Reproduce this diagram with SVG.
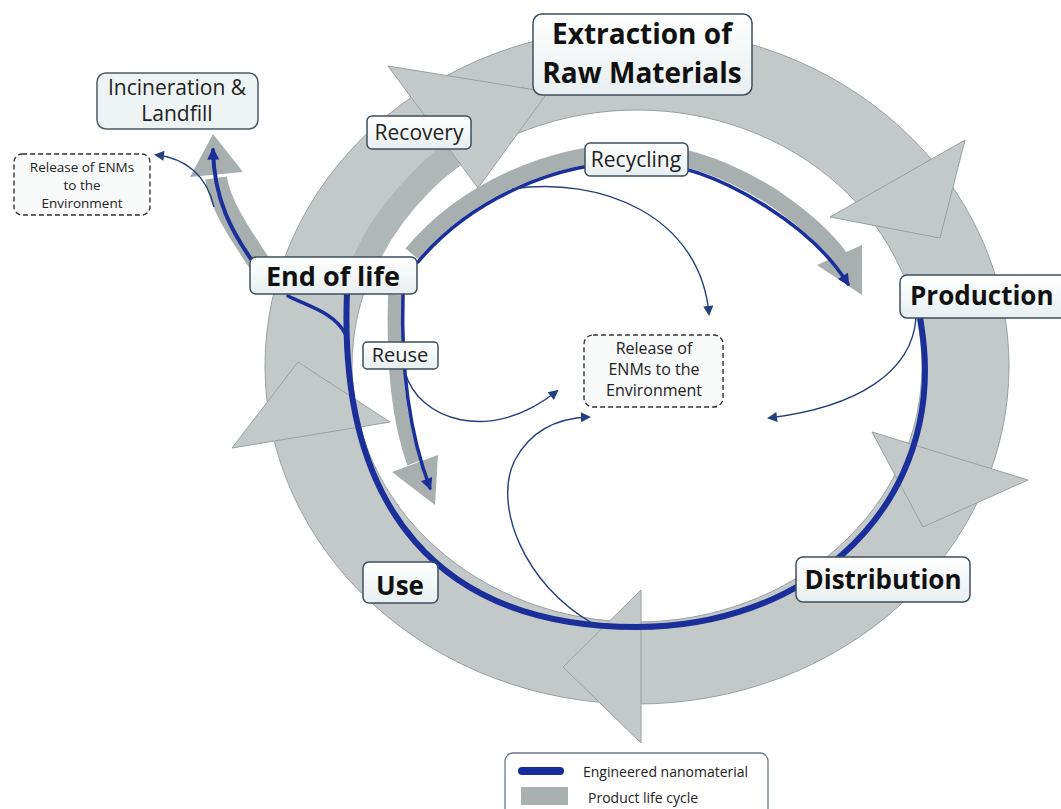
<svg xmlns="http://www.w3.org/2000/svg" width="1061" height="809" viewBox="0 0 1061 809">
<defs>
<style>
.ring{fill:#c3c9c9;stroke:#98a0a0;stroke-width:1}
.band{fill:none;stroke:#a8afaf}
.blue{fill:none;stroke:#1b2f9a;stroke-linecap:round}
.thin{fill:none;stroke:#22407e;stroke-width:1.4}
.box{fill:url(#bg);stroke:#3e4f5c;stroke-width:1.5}
.dash{fill:#f8f9f9;stroke:#333;stroke-width:1.4;stroke-dasharray:5 3}
.big{font-family:"Open Sans","Liberation Sans",sans-serif;font-weight:bold;fill:#111;text-anchor:middle}
.lab{font-family:"Open Sans","Liberation Sans",sans-serif;fill:#222;text-anchor:middle}
</style>
<linearGradient id="bg" x1="0" y1="0" x2="0" y2="1"><stop offset="0" stop-color="#ffffff"/><stop offset="1" stop-color="#e8eff0"/></linearGradient>
<marker id="ah" viewBox="0 0 10 10" refX="8" refY="5" markerWidth="11" markerHeight="10" markerUnits="userSpaceOnUse" orient="auto"><path d="M0,0 L10,5 L0,10 z" fill="#22407e"/></marker>
<marker id="ahb" viewBox="0 0 10 10" refX="8" refY="5" markerWidth="14" markerHeight="12" markerUnits="userSpaceOnUse" orient="auto"><path d="M0,0 L10,5 L0,10 z" fill="#1b2f9a"/></marker>
</defs>
<rect width="1061" height="809" fill="#ffffff"/>
<g id="lifecycle-ring">
<path class="ring" fill-rule="evenodd" d="M265,366 A372,338 0 1,0 1009,366 A372,338 0 1,0 265,366 Z M352,366 A285,256 0 1,0 922,366 A285,256 0 1,0 352,366 Z"/>
<path d="M365,262 C385,215 430,160 530,97" fill="none" stroke="#b0b7b7" stroke-width="26"/>
<polygon class="ring" points="388,66 478,188 548,92"/>
<polygon class="ring" points="965,140 830,217 940,238"/>
<polygon class="ring" points="872,432 1028,480 923,527"/>
<polygon class="ring" points="641,590 641,743 563,667"/>
<polygon class="ring" points="232,448 390,422 298,362"/>
</g>
<g id="connectors">
<path class="band" stroke-width="22" d="M260,264 C240,234 220,205 216,178"/>
<polygon fill="#a8afaf" points="190,177 243,172 213,134"/>
<path class="band" stroke-width="17" d="M412,254 C465,190 553,152 635,152 C683,152 730,170 774,198 C803,218 826,238 840,258"/>
<polygon fill="#a8afaf" points="817,265 862,245 862,295"/>
<path class="band" stroke-width="14" d="M395,295 C393,360 398,420 414,463"/>
<polygon fill="#a8afaf" points="392,472 438,455 435,505"/>
<path class="blue" stroke-width="6" d="M347,292 C338,510 440,627 637,627 C800,627 925,520 925,370 C925,345 922,330 920,317"/>
<path class="blue" stroke-width="3.5" d="M288,296 C305,305 335,312 346,335"/>
<path class="blue" stroke-width="4" marker-end="url(#ahb)" d="M253,262 C232,232 214,200 213,150"/>
<path class="blue" stroke-width="3.5" marker-end="url(#ahb)" d="M418,262 C470,200 555,162 635,162 C680,162 725,180 767,207 C800,228 830,255 848,284"/>
<path class="blue" stroke-width="3.5" marker-end="url(#ahb)" d="M403,295 C401,360 408,430 430,488"/>
<path class="thin" marker-end="url(#ah)" d="M214,207 C207,176 186,158 156,155"/>
<path class="thin" marker-end="url(#ah)" d="M512,189 C600,176 700,215 709,314"/>
<path class="thin" marker-end="url(#ah)" d="M405,372 C418,420 490,445 557,391"/>
<path class="thin" marker-end="url(#ah)" d="M592,623 C525,585 492,505 515,460 C532,428 560,418 589,417"/>
<path class="thin" marker-end="url(#ah)" d="M916,318 C912,372 858,407 769,418"/>
</g>
<g id="node-incineration">
<rect x="97" y="73" width="161" height="56" rx="9" fill="#eef3f3" stroke="#4d5a63" stroke-width="1.5"/>
<text class="lab" x="177" y="95" font-size="21" fill="#333">Incineration &amp;</text>
<text class="lab" x="177" y="121" font-size="21" fill="#333">Landfill</text>
</g>
<g id="node-release-left">
<rect class="dash" x="14" y="154" width="136" height="61" rx="8"/>
<text class="lab" x="82" y="172" font-size="13.5">Release of ENMs</text>
<text class="lab" x="82" y="190" font-size="13.5">to the</text>
<text class="lab" x="82" y="208" font-size="13.5">Environment</text>
</g>
<g id="node-extraction">
<rect class="box" x="533" y="14" width="219" height="81" rx="9"/>
<text class="big" x="642" y="44" font-size="28">Extraction of</text>
<text class="big" x="642" y="83" font-size="28">Raw Materials</text>
</g>
<g id="node-recovery">
<rect class="box" x="367" y="116" width="104" height="33" rx="5"/>
<text class="lab" x="419" y="140" font-size="21">Recovery</text>
</g>
<g id="node-recycling">
<rect class="box" x="585" y="143" width="103" height="33" rx="5"/>
<text class="lab" x="636" y="167" font-size="21">Recycling</text>
</g>
<g id="node-end-of-life">
<rect class="box" x="250" y="257" width="167" height="37" rx="6"/>
<text class="big" x="333" y="286" font-size="27">End of life</text>
</g>
<g id="node-reuse">
<rect class="box" x="363" y="342" width="75" height="27" rx="4"/>
<text class="lab" x="400" y="362" font-size="20">Reuse</text>
</g>
<g id="node-release-center">
<rect class="dash" x="584" y="335" width="139" height="72" rx="9"/>
<text class="lab" x="654" y="354" font-size="16">Release of</text>
<text class="lab" x="654" y="375" font-size="16">ENMs to the</text>
<text class="lab" x="654" y="396" font-size="16">Environment</text>
</g>
<g id="node-production">
<rect class="box" x="900" y="275" width="175" height="43" rx="7"/>
<text class="big" x="910" y="305" font-size="26" style="text-anchor:start">Production</text>
</g>
<g id="node-distribution">
<rect class="box" x="796" y="557" width="174" height="45" rx="7"/>
<text class="big" x="883" y="589" font-size="26">Distribution</text>
</g>
<g id="node-use">
<rect class="box" x="363" y="562" width="75" height="41" rx="6"/>
<text class="big" x="400" y="595" font-size="26">Use</text>
</g>
<g id="legend">
<rect x="505" y="753" width="263" height="64" rx="8" fill="#ffffff" stroke="#6b7a85" stroke-width="1.3"/>
<line x1="522" y1="771" x2="560" y2="771" stroke="#142c9c" stroke-width="8" stroke-linecap="round"/>
<rect x="521" y="787" width="47" height="18" fill="#a9b0b0"/>
<text class="lab" x="583" y="777" font-size="14" style="text-anchor:start">Engineered nanomaterial</text>
<text class="lab" x="588" y="803" font-size="14" style="text-anchor:start">Product life cycle</text>
</g>
</svg>
